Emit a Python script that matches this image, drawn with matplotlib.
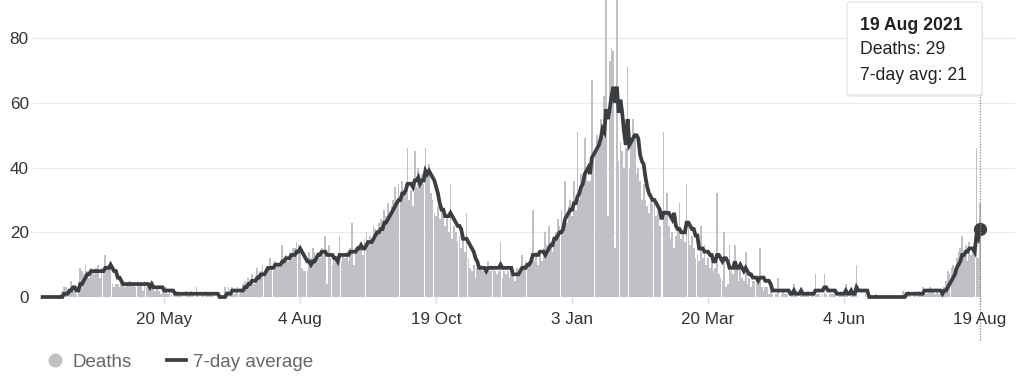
import numpy as np
import pandas as pd
import matplotlib
matplotlib.use("Agg")
import matplotlib.pyplot as plt
import matplotlib.dates as mdates
from matplotlib.lines import Line2D
from matplotlib.patches import FancyBboxPatch

plt.rcParams['font.family'] = ['Liberation Sans', 'DejaVu Sans']

# daily deaths, one row per week, first day 13 Mar 2020
start_date = '2020-03-13'
daily_deaths_by_week = [
    [0, 0, 0, 0, 0, 0, 0],
    [0, 0, 0, 1, 2, 3, 3],
    [1, 2, 5, 2, 3, 1, 3],
    [9, 8, 7, 10, 8, 6, 9],
    [8, 7, 9, 10, 6, 9, 9],
    [13, 9, 10, 11, 4, 3, 4],
    [4, 3, 5, 4, 3, 4, 5],
    [5, 4, 4, 3, 5, 4, 4],
    [2, 5, 3, 3, 3, 5, 3],
    [2, 3, 2, 1, 3, 2, 3],
    [1, 2, 1, 0, 1, 2, 1],
    [1, 1, 0, 2, 1, 1, 2],
    [1, 0, 3, 1, 0, 1, 1],
    [2, 1, 1, 1, 1, 0, 0],
    [0, 0, 0, 0, 3, 2, 3],
    [2, 3, 1, 2, 3, 1, 2],
    [4, 5, 4, 6, 5, 7, 4],
    [6, 9, 7, 8, 10, 8, 9],
    [9, 12, 10, 8, 11, 10, 10],
    [11, 16, 12, 13, 11, 14, 12],
    [15, 15, 17, 16, 14, 9, 8],
    [8, 8, 14, 12, 15, 14, 13],
    [14, 12, 15, 13, 19, 4, 16],
    [12, 10, 13, 11, 12, 19, 11],
    [13, 12, 14, 11, 15, 23, 10],
    [14, 16, 15, 17, 13, 18, 20],
    [17, 19, 18, 22, 21, 20, 23],
    [24, 22, 27, 25, 29, 26, 28],
    [30, 34, 28, 35, 31, 36, 33],
    [35, 46, 30, 33, 28, 45, 34],
    [40, 34, 38, 35, 46, 39, 41],
    [32, 30, 26, 25, 28, 24, 27],
    [26, 22, 25, 20, 35, 18, 22],
    [20, 17, 19, 15, 18, 14, 26],
    [12, 9, 8, 10, 6, 9, 9],
    [10, 8, 9, 7, 11, 8, 10],
    [9, 8, 7, 8, 17, 6, 8],
    [7, 8, 6, 9, 7, 5, 9],
    [8, 9, 13, 10, 11, 9, 10],
    [12, 27, 11, 14, 10, 13, 11],
    [15, 20, 16, 22, 17, 14, 19],
    [20, 24, 22, 27, 23, 36, 23],
    [28, 30, 25, 36, 27, 51, 30],
    [38, 35, 49, 40, 36, 36, 67],
    [44, 46, 50, 48, 55, 52, 62],
    [93, 25, 73, 77, 76, 15, 93],
    [42, 48, 45, 40, 46, 71, 40],
    [48, 55, 50, 38, 40, 36, 30],
    [35, 30, 28, 26, 32, 29, 30],
    [25, 28, 22, 0, 51, 27, 32],
    [22, 18, 20, 15, 19, 21, 29],
    [18, 20, 17, 35, 22, 16, 19],
    [15, 12, 13, 11, 22, 12, 16],
    [10, 12, 9, 11, 8, 9, 32],
    [7, 6, 5, 20, 3, 4, 16],
    [8, 7, 16, 9, 5, 10, 6],
    [5, 14, 4, 6, 3, 5, 5],
    [4, 5, 15, 3, 2, 3, 3],
    [1, 2, 1, 0, 1, 6, 0],
    [1, 2, 1, 1, 0, 2, 1],
    [4, 1, 1, 0, 2, 1, 1],
    [1, 2, 0, 1, 1, 7, 1],
    [1, 0, 1, 7, 1, 0, 1],
    [1, 1, 2, 0, 1, 2, 1],
    [1, 4, 1, 0, 2, 1, 1],
    [10, 0, 0, 0, 0, 1, 0],
    [0, 0, 0, 0, 1, 0, 0],
    [0, 0, 0, 0, 0, 0, 0],
    [0, 0, 0, 0, 0, 2, 1],
    [1, 2, 1, 0, 1, 2, 1],
    [2, 1, 3, 2, 1, 2, 3],
    [2, 2, 1, 2, 1, 1, 1],
    [3, 5, 8, 7, 9, 10, 9],
    [12, 14, 15, 19, 13, 16, 11],
    [17, 13, 15, 15, 46, 12, 29],
]

tick_dates = ['2020-05-20', '2020-08-04', '2020-10-19', '2021-01-03',
              '2021-03-20', '2021-06-04', '2021-08-19']
tick_labels = ['20 May', '4 Aug', '19 Oct', '3 Jan', '20 Mar', '4 Jun', '19 Aug']
y_ticks = [0, 20, 40, 60, 80]

deaths = np.array([v for week in daily_deaths_by_week for v in week])
dates = pd.date_range(start_date, periods=len(deaths), freq='D')
avg = pd.Series(deaths).rolling(7, min_periods=1).mean().round().values

bar_col = '#bfc1c4'
line_col = '#3b3e41'

W, H = 1024, 386
fig = plt.figure(figsize=(W / 100, H / 100), dpi=100)
ax_left, ax_right, ax_top, ax_bottom = 33, 1015, 0, 297
ax = fig.add_axes([ax_left / W, 1 - ax_bottom / H,
                   (ax_right - ax_left) / W, (ax_bottom - ax_top) / H])

x = mdates.date2num(dates)
ax.bar(x, deaths, width=0.95, color=bar_col, linewidth=0, zorder=2)
ax.plot(x, avg, color=line_col, lw=2.7, solid_joinstyle='miter', zorder=3, clip_on=False)
ax.plot(x[-1], avg[-1], 'o', ms=8.5, color=line_col, zorder=4, clip_on=False)

# px per day from tick spacing (76 days ~ 136 px)
ppd = 136 / 76.0
ax.set_xlim(x[0] - (42.6 - ax_left) / ppd, x[-1] + (ax_right - 980) / ppd)
ax.set_ylim(0, 297 / 3.235)

ax.set_yticks(y_ticks)
ax.set_yticklabels([str(v) for v in y_ticks])
ax.set_xticks(mdates.date2num(pd.to_datetime(tick_dates)))
ax.set_xticklabels(tick_labels)
ax.tick_params(axis='y', length=0, pad=3, labelsize=12.3, labelcolor='#333333')
ax.tick_params(axis='x', length=5, width=1, color='#dddddd', pad=6,
               labelsize=12.3, labelcolor='#333333')
ax.grid(axis='y', color='#ebebeb', lw=1, zorder=0)
ax.set_axisbelow(True)
for s in ax.spines.values():
    s.set_visible(False)

# hover guide line
ax.axvline(x[-1], ymin=-43 / 297, ymax=(297 - 95) / 297, color='#888888',
           lw=0.9, ls=(0, (1, 1.2)), clip_on=False, zorder=5)

# tooltip
bx0, by0, bx1, by1 = 847, 2, 982, 95
shadow = FancyBboxPatch(((bx0 + 1) / W, 1 - (by1 + 2) / H), (bx1 - bx0) / W, (by1 - by0) / H,
                        boxstyle='round,pad=0,rounding_size=0.004', transform=fig.transFigure,
                        fc='#000000', ec='none', alpha=0.08, zorder=9)
box = FancyBboxPatch((bx0 / W, 1 - by1 / H), (bx1 - bx0) / W, (by1 - by0) / H,
                     boxstyle='round,pad=0,rounding_size=0.004', transform=fig.transFigure,
                     fc='white', ec='#e2e2e2', lw=0.8, zorder=10)
fig.add_artist(shadow)
fig.add_artist(box)
fig.text(860 / W, 1 - 25 / H, '19 Aug 2021', fontsize=12.7, fontweight='bold',
         color='#222222', va='center', zorder=11)
fig.text(860 / W, 1 - 50 / H, 'Deaths: %d' % deaths[-1], fontsize=12.7,
         color='#222222', va='center', zorder=11)
fig.text(860 / W, 1 - 75 / H, '7-day avg: %d' % avg[-1], fontsize=12.7,
         color='#222222', va='center', zorder=11)

# legend
handles = [Line2D([], [], marker='o', ls='none', ms=9, color=bar_col),
           Line2D([], [], color=line_col, lw=2.7)]
fig.legend(handles, ['Deaths', '7-day average'], loc='center left',
           bbox_to_anchor=(46 / W, 1 - 362 / H), ncol=2, frameon=False,
           fontsize=13.5, labelcolor='#666666', handlelength=1.0, handletextpad=0.4,
           columnspacing=1.9, borderaxespad=0, borderpad=0)

fig.savefig('out.png', dpi=100)
